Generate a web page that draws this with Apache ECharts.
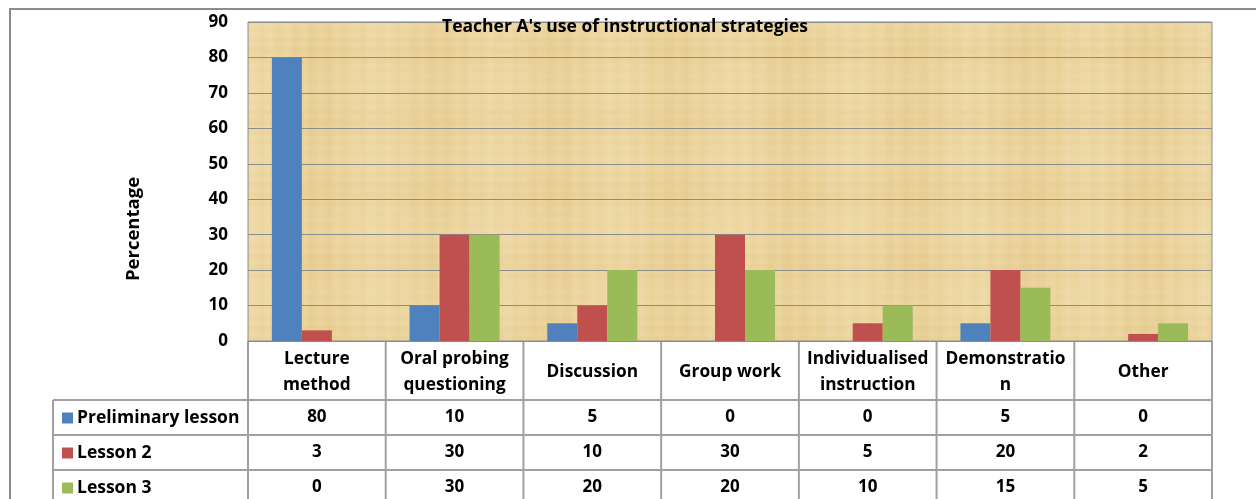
<!DOCTYPE html>
<html><head><meta charset="utf-8">
<script src="https://cdn.jsdelivr.net/npm/echarts@6/dist/echarts.min.js"></script>
<style>html,body{margin:0;padding:0;background:#fff}#c{width:1256px;height:499px}</style>
</head><body><div id="c"></div>
<script>
const categories = ['Lecture\nmethod','Oral probing\nquestioning','Discussion','Group work','Individualised\ninstruction','Demonstratio\nn','Other'];
const seriesNames = ['Preliminary lesson','Lesson 2','Lesson 3'];
const preliminary = [80,10,5,0,0,5,0];
const lesson2 = [3,30,10,30,5,20,2];
const lesson3 = [0,30,20,20,10,15,5];
const yTicks = [0,10,20,30,40,50,60,70,80,90];

const colors = ['#4F81BD','#C0504D','#9BBB59'];
const values = [preliminary, lesson2, lesson3];
const FONT = '"Open Sans"';
const GL = 248, GR = 1212, GT = 22, GB = 341;
const W = 1256, H = 499;
const cw = (GR-GL)/categories.length;

// deterministic parchment texture
const tex = document.createElement('canvas');
tex.width = 964; tex.height = 320;
(function(){
  const g = tex.getContext('2d');
  g.fillStyle = '#ECD59F'; g.fillRect(0,0,tex.width,tex.height);
  for (let x=0;x<tex.width;x++){
    const v = Math.sin(x*0.37)*0.5+Math.sin(x*0.053+1)*0.8+Math.sin(x*1.7)*0.3;
    g.fillStyle = v>0 ? 'rgba(255,245,215,'+(0.12*v)+')' : 'rgba(200,160,70,'+(-0.08*v)+')';
    g.fillRect(x,0,1,tex.height);
  }
  for (let y=0;y<tex.height;y++){
    const v = Math.sin(y*0.61)*0.5+Math.sin(y*0.09+2)*0.6;
    g.fillStyle = v>0 ? 'rgba(255,245,215,'+(0.08*v)+')' : 'rgba(200,160,70,'+(-0.06*v)+')';
    g.fillRect(0,y,tex.width,1);
  }
})();

const lineStyle = {stroke:'#A0A0A0', lineWidth:2};
const graphics = [
  {type:'rect', shape:{x:10,y:9,width:W+20,height:H+20}, style:{fill:null, stroke:'#8C8C8C', lineWidth:2}, z:-10, silent:true},
  {type:'image', style:{image:tex, x:GL, y:GT, width:GR-GL, height:GB-GT}, z:-5, silent:true},
  {type:'text', x:134, y:229, rotation:Math.PI/2, silent:true,
    style:{text:'Percentage', fontFamily:FONT, fontWeight:'bold', fontSize:18.5, fill:'#000', align:'center', verticalAlign:'middle'}}
];
for (let i=0;i<=categories.length;i++){
  graphics.push({type:'line', shape:{x1:GL+i*cw, y1:GB, x2:GL+i*cw, y2:H+5}, style:lineStyle, silent:true});
}
[400,435,470].forEach(y=>graphics.push({type:'line', shape:{x1:53, y1:y, x2:GR, y2:y}, style:lineStyle, silent:true}));
graphics.push({type:'line', shape:{x1:53, y1:400, x2:53, y2:H+5}, style:lineStyle, silent:true});

const rowAxes = values.map((arr,k)=>({
  type:'category', data:categories, position:'bottom', gridIndex:0,
  axisLine:{show:false}, axisTick:{show:false}, splitLine:{show:false},
  axisLabel:{interval:0, margin:76+35*k, verticalAlign:'middle', fontFamily:FONT, fontWeight:'bold', fontSize:17, color:'#000',
    formatter:(v,i)=>String(arr[i])}
}));

const legends = seriesNames.map((n,k)=>({
  orient:'horizontal', left:57, top:404+35*k, itemWidth:11, itemHeight:11, itemGap:0,
  icon:'rect', data:[n], selectedMode:false,
  textStyle:{fontFamily:FONT, fontWeight:'bold', fontSize:17.5, color:'#000', padding:[0,0,0,-1]}
}));

const option = {
  animation:false,
  color: colors,
  title:{text:"Teacher A's use of instructional strategies", left:437, top:13,
    textStyle:{fontFamily:FONT, fontWeight:'bold', fontSize:17.5, color:'#000'}},
  legend: legends,
  grid:{left:GL, right:W-GR, top:GT, bottom:H-GB, show:true, borderColor:'#8C8C8C', borderWidth:1, backgroundColor:'transparent'},
  graphic: graphics,
  xAxis:[{
    type:'category', data:categories, position:'bottom',
    axisLine:{show:true, lineStyle:{color:'#8C8C8C', width:1}}, axisTick:{show:false},
    axisLabel:{interval:0, margin:31, verticalAlign:'middle', lineHeight:26, fontFamily:FONT, fontWeight:'bold', fontSize:17.3, color:'#000'}
  }].concat(rowAxes),
  yAxis:{type:'value', min:yTicks[0], max:yTicks[yTicks.length-1], interval:10,
    axisLine:{show:false}, axisTick:{show:false},
    axisLabel:{margin:20, fontFamily:FONT, fontWeight:'bold', fontSize:17, color:'#000'},
    splitLine:{lineStyle:{color:'#8C8C8C', width:1}}},
  series: values.map((arr,k)=>({
    name:seriesNames[k], type:'bar', data:arr, barWidth:30, barGap:'0%', xAxisIndex:0
  }))
};
const chart = echarts.init(document.getElementById('c'), null, {renderer:'canvas'});
chart.setOption(option);
</script></body></html>
